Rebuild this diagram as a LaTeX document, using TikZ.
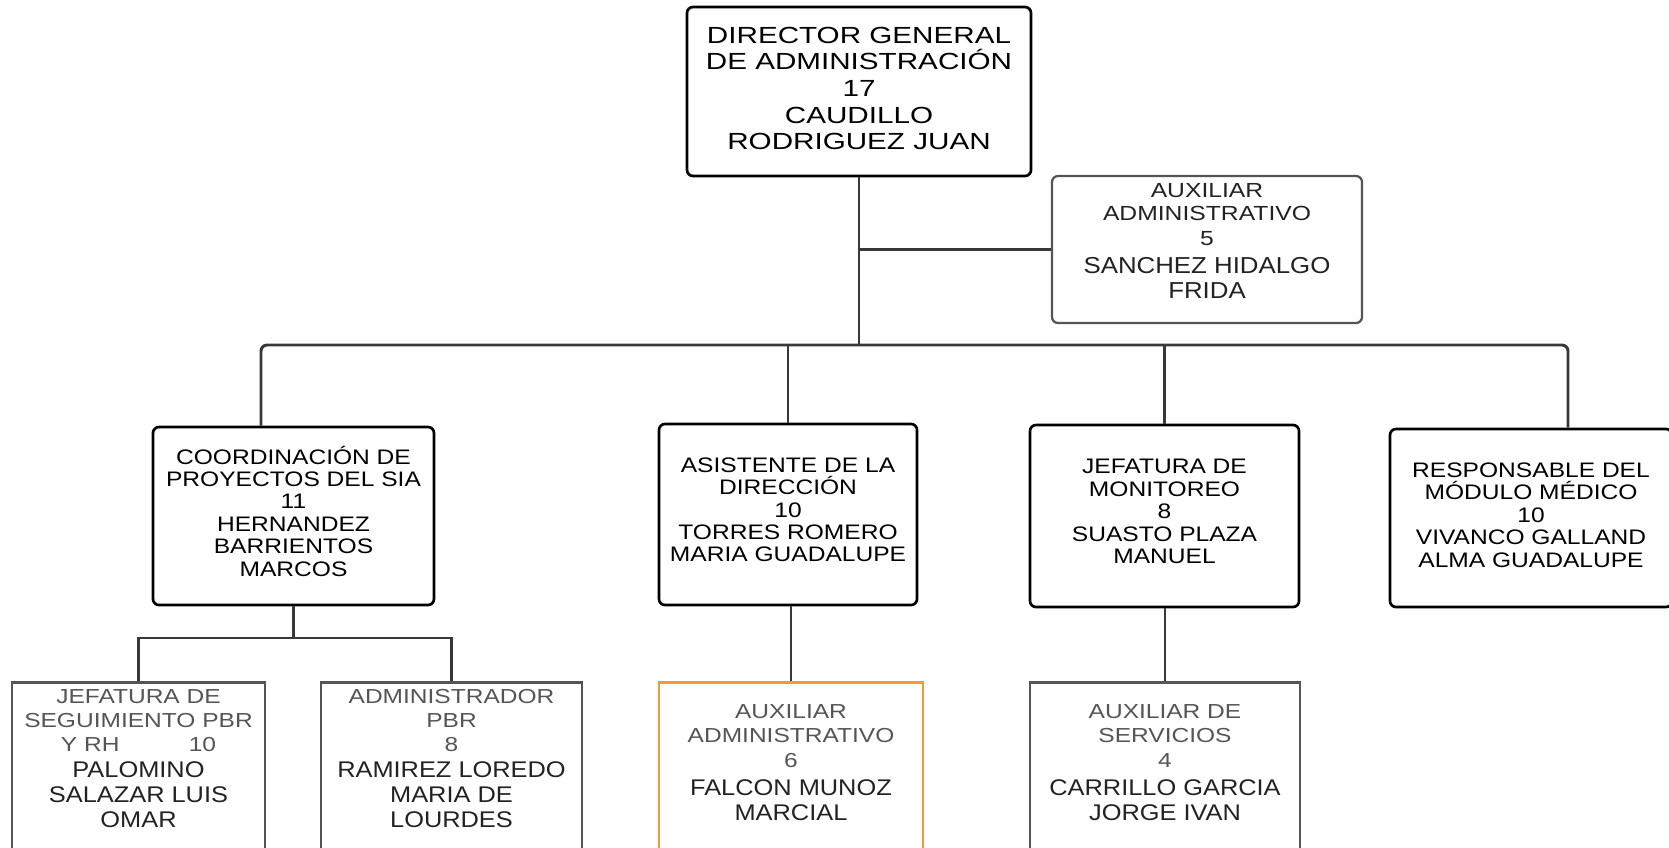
\documentclass[tikz,border=0pt]{standalone}
\usepackage{fontspec}
\setmainfont{Liberation Sans}
\newfontfamily\dirfont[FakeStretch=1.27]{Liberation Sans}
\newfontfamily\midfont[FakeStretch=1.17]{Liberation Sans}
\newfontfamily\ttlfont[FakeStretch=1.21]{Liberation Sans}
\newfontfamily\nmfont[FakeStretch=1.12]{Liberation Sans}

\definecolor{linegray}{HTML}{383838}
\definecolor{boxgray}{HTML}{555555}
\definecolor{ttlgray}{HTML}{555555}
\definecolor{namegray}{HTML}{222222}
\definecolor{orangebox}{HTML}{F29A33}

% title lines and name lines of the lower boxes
\newcommand\TitleTxt{\ttlfont\fontsize{15.2pt}{18pt}\selectfont\color{ttlgray}}
\newcommand\NameTxt{\nmfont\fontsize{17pt}{18pt}\selectfont\color{namegray}}

\tikzset{
  topbox/.style={rectangle, draw=black, line width=2pt, rounded corners=4.5pt,
    fill=white, inner sep=0pt, align=center},
  midbox/.style={topbox, font=\midfont\fontsize{15.75pt}{16.8pt}\selectfont},
  auxbox/.style={rectangle, draw=boxgray, line width=1.7pt, rounded corners=4.5pt,
    fill=white, inner sep=0pt, align=center},
  lowbox/.style={rectangle, draw=boxgray, line width=2.1pt, anchor=north,
    inner xsep=0pt, text depth=150pt, align=center,
    font=\ttlfont\fontsize{15.2pt}{18pt}\selectfont},
  link/.style={draw=linegray, line width=2.2pt},
}

\begin{document}
\begin{tikzpicture}[x=0.75pt, y=-0.75pt]
\useasboundingbox (0,0) rectangle (1669,847);
\clip (0,0) rectangle (1669,847);

% ---- boxes ----
\node[topbox, font=\dirfont\fontsize{17.5pt}{20pt}\selectfont,
      minimum width=258pt, minimum height=126.75pt, text depth=4.5pt] (dir) at (859,91.5)
  {DIRECTOR GENERAL\\DE ADMINISTRACIÓN\\17\\CAUDILLO\\RODRIGUEZ JUAN};

\node[auxbox, font=\ttlfont\fontsize{15.3pt}{17pt}\selectfont\color{namegray},
      minimum width=232.5pt, minimum height=110.25pt, text depth=12.75pt] (aux) at (1207,249.5)
  {AUXILIAR\\ADMINISTRATIVO\\[1.75pt]5\\[4pt]
   \nmfont\fontsize{17.3pt}{17pt}\selectfont SANCHEZ HIDALGO\\[1.4pt]
   \nmfont\fontsize{17.3pt}{17pt}\selectfont FRIDA};

\node[midbox, minimum width=210.75pt, minimum height=133.5pt, text depth=7.5pt] (coord) at (293.5,516)
  {COORDINACIÓN DE\\PROYECTOS DEL SIA\\11\\HERNANDEZ\\BARRIENTOS\\MARCOS};

\node[midbox, minimum width=193.5pt, minimum height=135.75pt, text depth=7pt] (asis) at (788,514.5)
  {ASISTENTE DE LA\\DIRECCIÓN\\10\\TORRES ROMERO\\MARIA GUADALUPE};

\node[midbox, minimum width=201.75pt, minimum height=136.5pt, text depth=6.75pt] (jefm) at (1164.5,516)
  {JEFATURA DE\\MONITOREO\\8\\SUASTO PLAZA\\MANUEL};

\node[midbox, minimum width=211.5pt, minimum height=133.5pt, text depth=4.5pt] (resp) at (1531,518)
  {RESPONSABLE DEL\\MÓDULO MÉDICO\\10\\VIVANCO GALLAND\\ALMA GUADALUPE};

\node[lowbox, minimum width=189.75pt, inner ysep=5pt] (jefs) at (138.5,681)
  {\TitleTxt JEFATURA DE\\\TitleTxt SEGUIMIENTO PBR\\
   \TitleTxt Y RH\hspace{52pt}10\\[1.9pt]
   \NameTxt PALOMINO\\[0.75pt]\NameTxt SALAZAR LUIS\\[0.75pt]\NameTxt OMAR};

\node[lowbox, minimum width=195.75pt, inner ysep=5pt] (adm) at (451.5,681)
  {\TitleTxt ADMINISTRADOR\\\TitleTxt PBR\\\TitleTxt 8\\[1.9pt]
   \NameTxt RAMIREZ LOREDO\\[0.75pt]\NameTxt MARIA DE\\[0.75pt]\NameTxt LOURDES};

\node[lowbox, draw=orangebox, minimum width=198pt, inner ysep=16.3pt] (aux6) at (791,681)
  {\TitleTxt AUXILIAR\\\TitleTxt ADMINISTRATIVO\\[0.75pt]\TitleTxt 6\\[3.5pt]
   \NameTxt FALCON MUNOZ\\[0.3pt]\NameTxt MARCIAL};

\node[lowbox, minimum width=202.5pt, inner ysep=16.3pt] (auxs) at (1165,681)
  {\TitleTxt AUXILIAR DE\\\TitleTxt SERVICIOS\\[0.75pt]\TitleTxt 4\\[3.5pt]
   \NameTxt CARRILLO GARCIA\\[0.3pt]\NameTxt JORGE IVAN};

% ---- connectors ----
\coordinate (busL) at (261,345);
\coordinate (busR) at (1568,345);
\coordinate (sub) at (294,638);

\draw[link] (dir.south) -- (dir.south |- busL);
\draw[link] (aux.west) -- (aux.west -| dir.south);
\draw[link, rounded corners=4.5pt] (coord.north -| busL) -- (busL) -- (busR) -- (resp.north -| busR);
\draw[link] (asis.north |- busL) -- (asis.north);
\draw[link] (jefm.north |- busL) -- (jefm.north);

\draw[link] (coord.south) -- (coord.south |- sub);
\draw[link] (jefs.north) |- (sub) -| (adm.north);
\draw[link] (aux6.north |- asis.south) -- (aux6.north);
\draw[link] (auxs.north |- jefm.south) -- (auxs.north);
\end{tikzpicture}
\end{document}
